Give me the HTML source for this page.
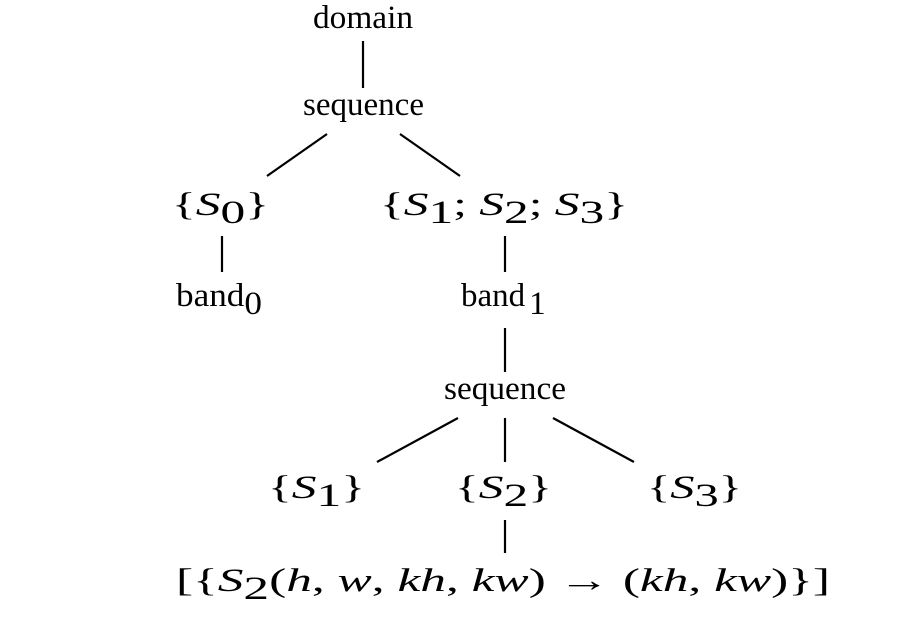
<!DOCTYPE html>
<html><head><meta charset="utf-8"><style>
html,body{margin:0;padding:0;background:#fff;}
svg{display:block;}
text{font-family:"Liberation Serif",serif;fill:#000;}
.m{font-size:33px;}
</style></head><body>
<svg width="912" height="622" viewBox="0 0 912 622" xmlns="http://www.w3.org/2000/svg">
<g stroke="#000" stroke-width="2.2" fill="none">
<line x1="363" y1="41" x2="363" y2="88"/>
<line x1="327" y1="134" x2="267" y2="176"/>
<line x1="400" y1="134" x2="460" y2="176"/>
<line x1="222" y1="236" x2="222" y2="272"/>
<line x1="505" y1="236" x2="505" y2="272"/>
<line x1="505" y1="328" x2="505" y2="372"/>
<line x1="458" y1="418" x2="377" y2="462"/>
<line x1="505" y1="418" x2="505" y2="462"/>
<line x1="553" y1="418" x2="634" y2="462"/>
<line x1="505" y1="520" x2="505" y2="553"/>
</g>
<text class="m" x="313" y="28" textLength="100" lengthAdjust="spacingAndGlyphs">domain</text>
<text class="m" x="303" y="115" textLength="121" lengthAdjust="spacingAndGlyphs">sequence</text>
<text class="m" x="172" y="215" textLength="97" lengthAdjust="spacingAndGlyphs">{<tspan font-style="italic">S</tspan><tspan dy="8">0</tspan><tspan dy="-8">}</tspan></text>
<text class="m" x="380" y="215" textLength="248" lengthAdjust="spacingAndGlyphs">{<tspan font-style="italic">S</tspan><tspan dy="8">1</tspan><tspan dy="-8">; </tspan><tspan font-style="italic">S</tspan><tspan dy="8">2</tspan><tspan dy="-8">; </tspan><tspan font-style="italic">S</tspan><tspan dy="8">3</tspan><tspan dy="-8">}</tspan></text>
<text class="m" x="176" y="306" textLength="86" lengthAdjust="spacingAndGlyphs">band<tspan dy="8">0</tspan></text>
<text class="m" x="461" y="306">band<tspan dy="8" dx="4">1</tspan></text>
<text class="m" x="444" y="399" textLength="122" lengthAdjust="spacingAndGlyphs">sequence</text>
<text class="m" x="268" y="498" textLength="97" lengthAdjust="spacingAndGlyphs">{<tspan font-style="italic">S</tspan><tspan dy="8">1</tspan><tspan dy="-8">}</tspan></text>
<text class="m" x="455" y="498" textLength="97" lengthAdjust="spacingAndGlyphs">{<tspan font-style="italic">S</tspan><tspan dy="8">2</tspan><tspan dy="-8">}</tspan></text>
<text class="m" x="647" y="498" textLength="95" lengthAdjust="spacingAndGlyphs">{<tspan font-style="italic">S</tspan><tspan dy="8">3</tspan><tspan dy="-8">}</tspan></text>
<text class="m" x="176" y="591" textLength="654" lengthAdjust="spacingAndGlyphs" font-size="35">[{<tspan font-style="italic">S</tspan><tspan dy="8">2</tspan><tspan dy="-8">(</tspan><tspan font-style="italic">h</tspan>, <tspan font-style="italic">w</tspan>, <tspan font-style="italic">kh</tspan>, <tspan font-style="italic">kw</tspan>) → (<tspan font-style="italic">kh</tspan>, <tspan font-style="italic">kw</tspan>)}]</text>
</svg>
</body></html>
